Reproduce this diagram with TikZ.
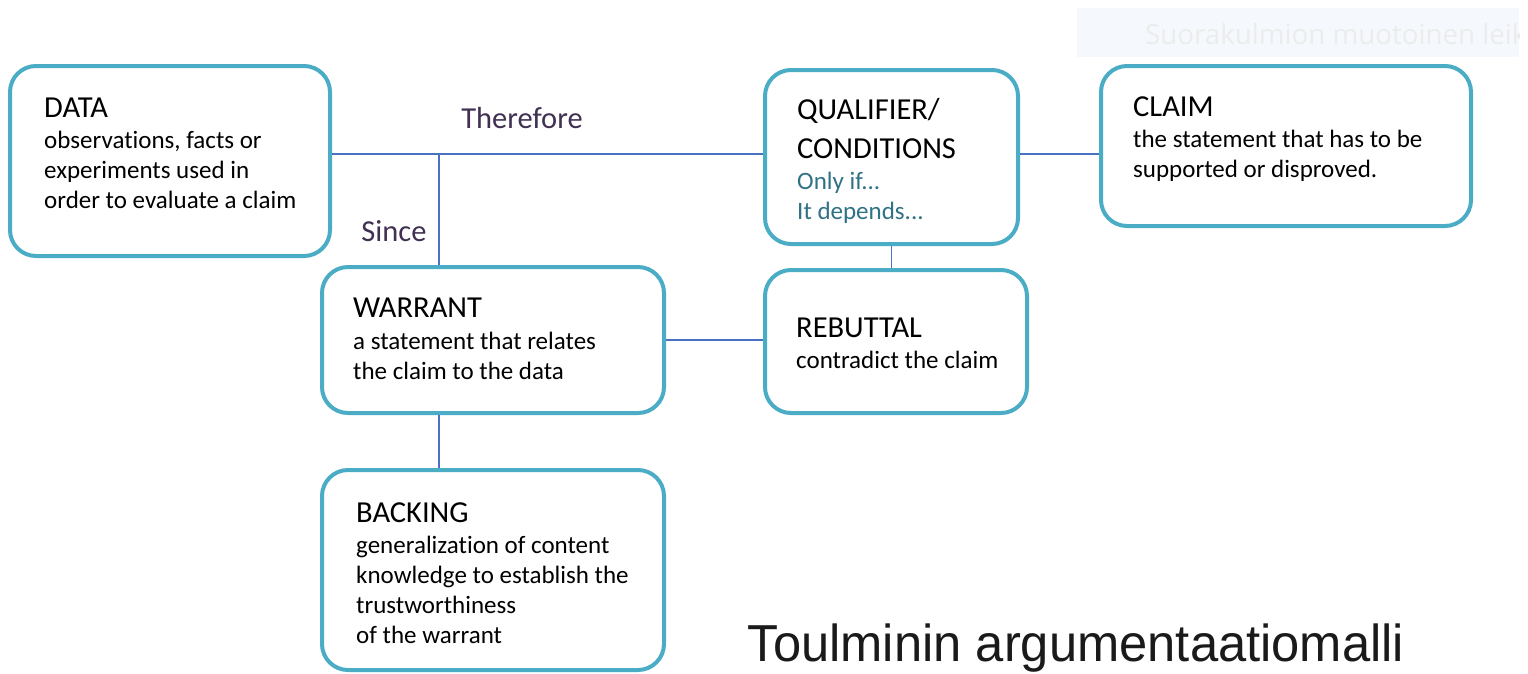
\documentclass[tikz,border=0pt]{standalone}
\usepackage{fontspec}
\setmainfont{Carlito}[RawFeature=-liga]
\newfontfamily\titlefont{Liberation Sans}
\newfontfamily\snipfont{Open Sans}
\definecolor{boxblue}{HTML}{4BACC6}
\definecolor{linkblue}{HTML}{4A72C2}
\definecolor{wordpurple}{HTML}{403152}
\definecolor{qualteal}{HTML}{2F7185}

\tikzset{
  card/.style={draw=boxblue, line width=4pt, rounded corners=26pt, inner sep=0pt},
  head/.style={anchor=base west, inner sep=0pt, align=left, font=\fontsize{30.5}{39}\selectfont},
  body/.style={anchor=base west, inner sep=0pt, align=left, font=\fontsize{25}{30}\selectfont},
  link/.style={draw=linkblue, line width=1.4pt},
  word/.style={text=wordpurple, inner sep=0pt, font=\fontsize{30.5}{36}\selectfont}
}

\begin{document}
\begin{tikzpicture}[x=1pt,y=-1pt]
\useasboundingbox (0,0) rectangle (1528,673);
% faint snipping-tool strip, cut at its right end
\begin{scope}
\clip (1077,8) rectangle (1519,57);
\fill[color={rgb,255:red,245;green,249;blue,253}] (1077,8) rectangle (1519,57);
\node[anchor=base west, inner sep=0pt, text={rgb,255:red,236;green,236;blue,236},
  font=\snipfont\fontsize{27.7}{30}\selectfont] (snip) at (1145,44) {Suorakulmion muotoinen leike};
\end{scope}

% boxes
\node[card, minimum width=320pt, minimum height=190pt] (data) at (170,161) {};
\node[card, minimum width=253pt, minimum height=174pt] (qual) at (891.5,157) {};
\node[card, minimum width=370pt, minimum height=160pt] (claim) at (1286,146) {};
\node[card, minimum width=342pt, minimum height=146pt] (warrant) at (493,340) {};
\node[card, minimum width=262pt, minimum height=143pt] (rebut) at (896,341.5) {};
\node[card, minimum width=342pt, minimum height=200pt] (backing) at (493,570) {};

% texts (base = last line)
\node[head] (datahead) at (44,117) {DATA};
\node[body] (databody) at (44,208) {observations, facts or\\experiments used in\\order to evaluate a claim};
\node[head] (qualhead) at (797,158) {QUALIFIER/\\CONDITIONS};
\node[body, text=qualteal] (qualbody) at (797,219) {Only if...\\It depends...};
\node[head] (claimhead) at (1133,116) {CLAIM};
\node[body] (claimbody) at (1133,177) {the statement that has to be\\supported or disproved.};
\node[head] (warranthead) at (353,317) {WARRANT};
\node[body] (warrantbody) at (353,379) {a statement that relates\\the claim to the data};
\node[head] (rebuthead) at (796,337) {REBUTTAL};
\node[body] (rebutbody) at (796,368) {contradict the claim};
\node[head] (backinghead) at (356,522) {BACKING};
\node[body] (backingbody) at (356,643) {generalization of content\\knowledge to establish the\\trustworthiness\\of the warrant};

% connectors
\coordinate (join) at (439,154);
\draw[link] (data.east |- join) -- (qual.west |- join);
\draw[link] (join) -- (warrant.north -| join);
\draw[link] (qual.east |- join) -- (claim.west |- join);
\draw[link] (qual.south) -- (qual.south |- rebut.north);
\draw[link] (warrant.east) -- (rebut.west |- warrant.east);
\draw[link] (warrant.south -| join) -- (backing.north -| join);

\node[word] (therefore) at (522,118) {Therefore};
\node[word] (since) at (394,231) {Since};

\node[inner sep=0pt, font=\titlefont\fontsize{52}{60}\selectfont, text={rgb,255:red,26;green,26;blue,26}]
  (title) at (1076,648.5) {\scalebox{0.975}[1]{Toulminin argumentaatiomalli}};
\end{tikzpicture}
\end{document}
